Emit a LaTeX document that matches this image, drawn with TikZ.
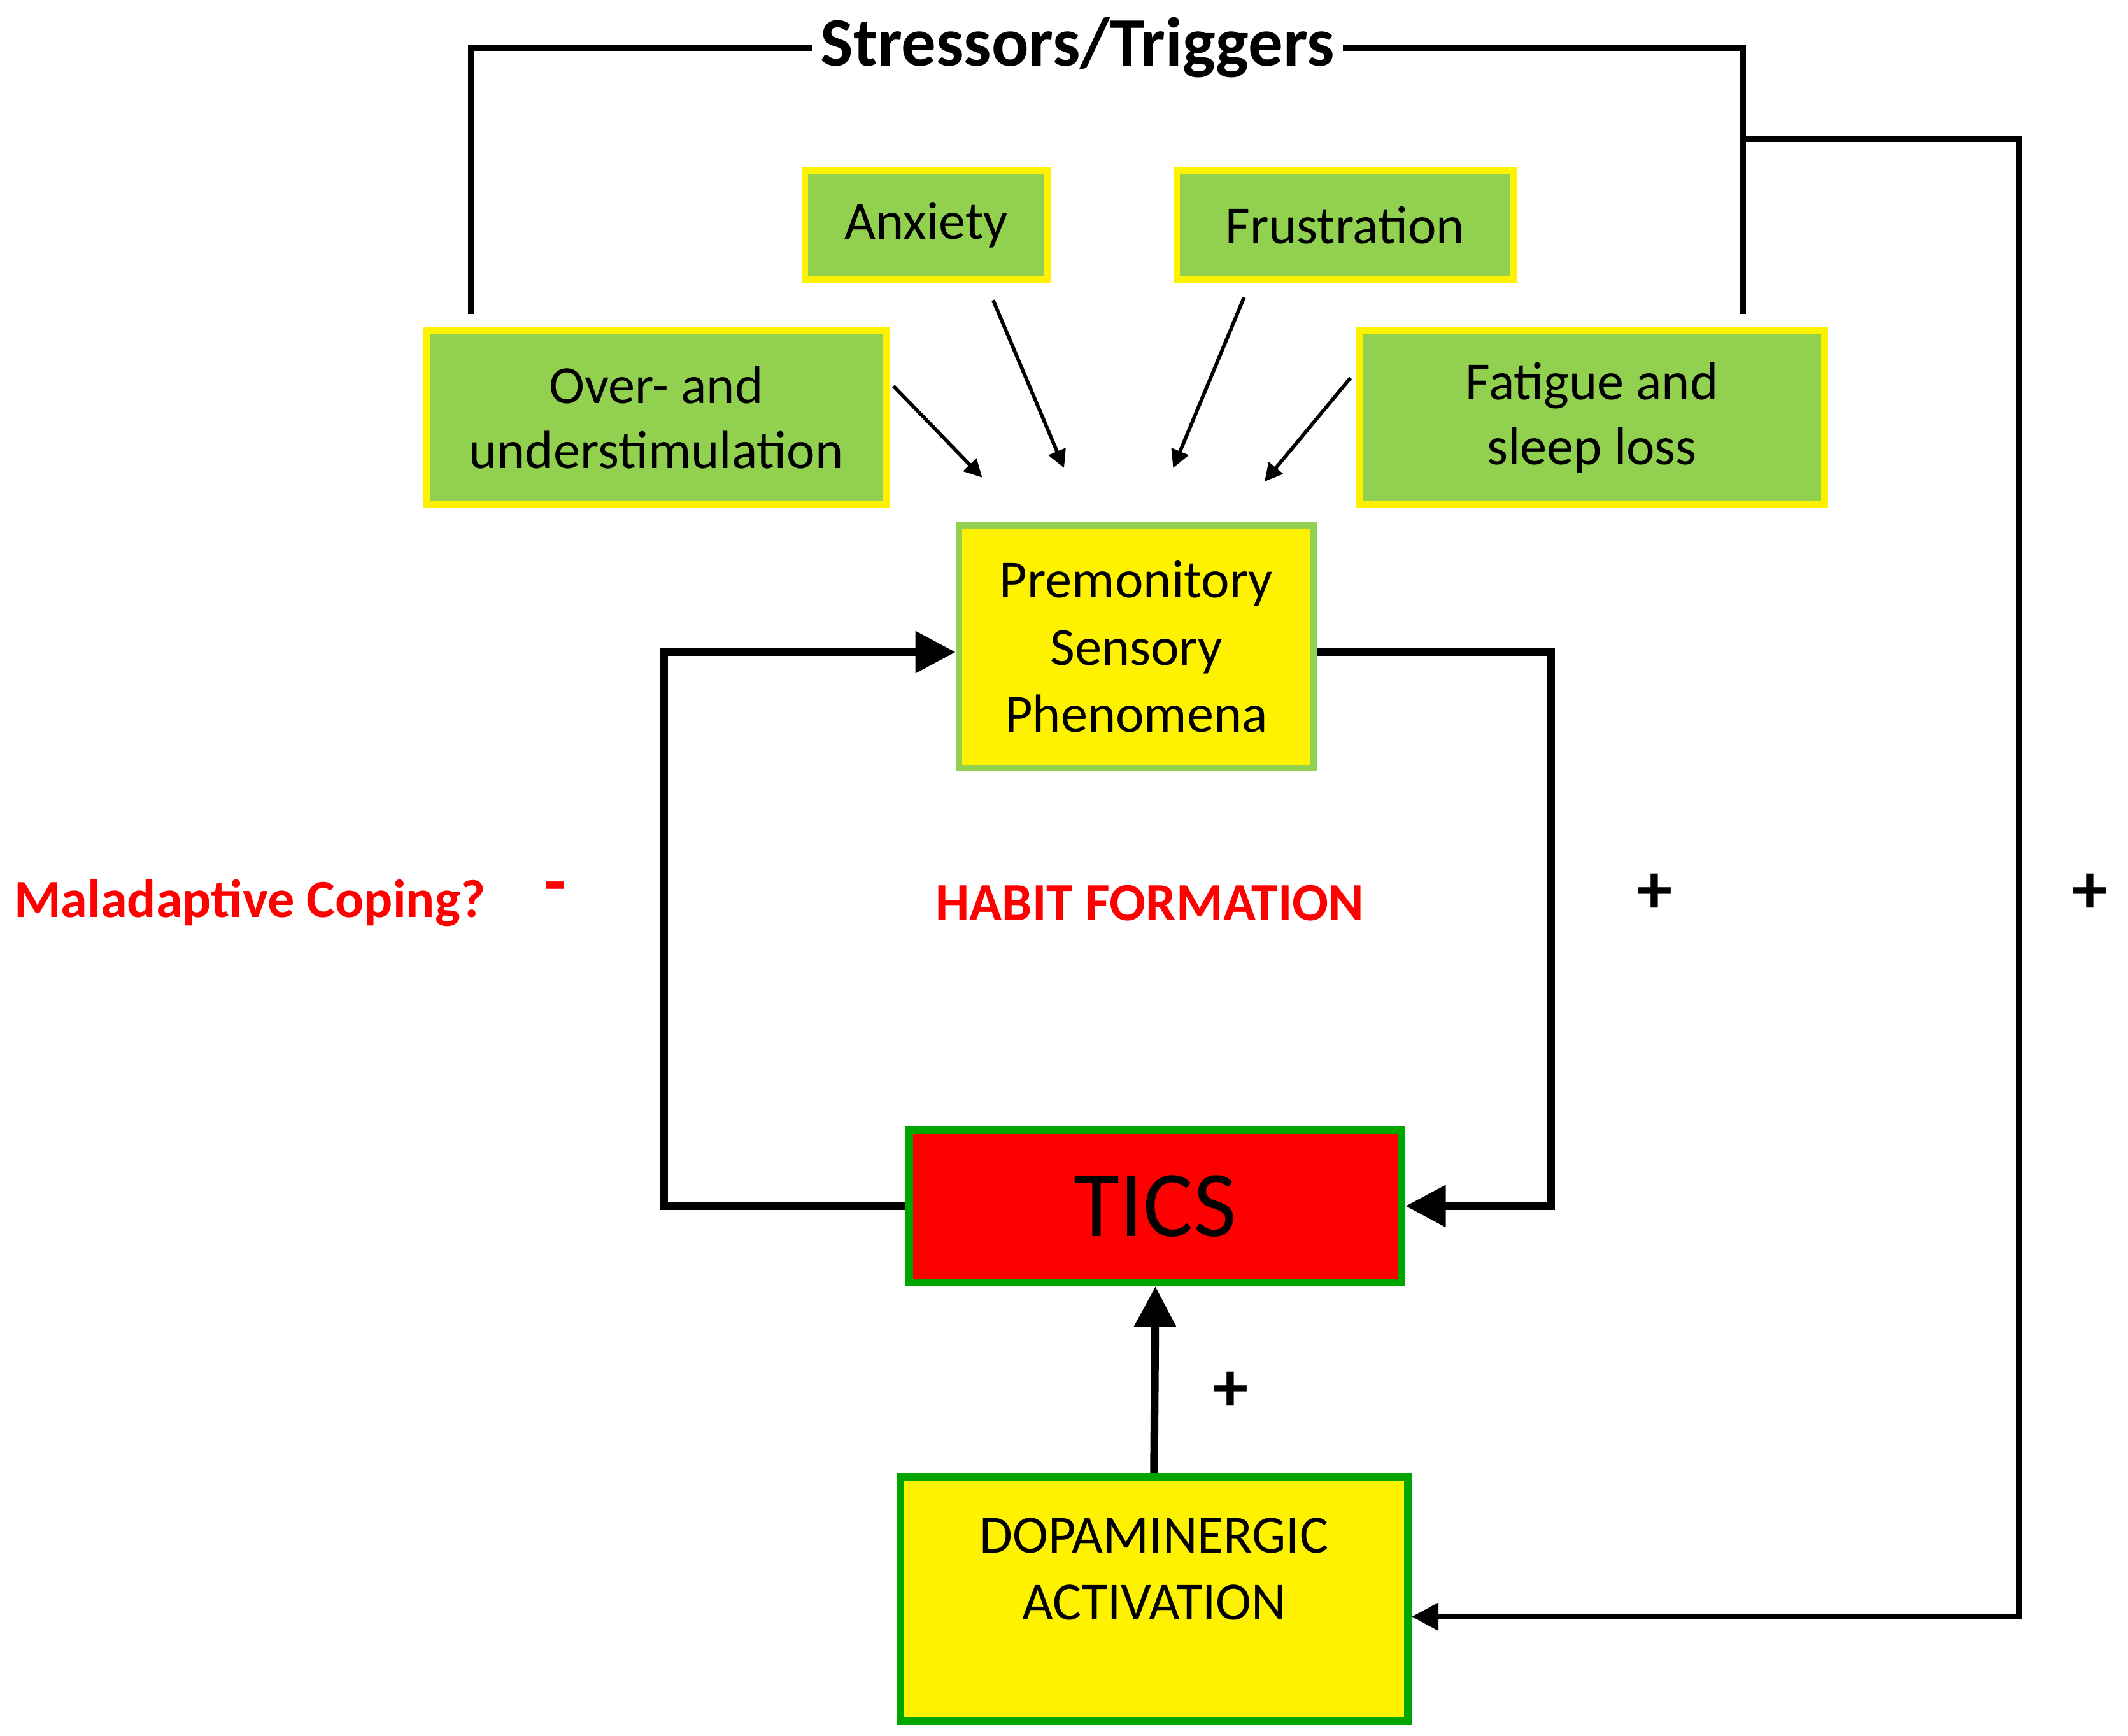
\documentclass[tikz,border=0pt]{standalone}
\usepackage{fontspec}
\setmainfont{Carlito}
\usetikzlibrary{arrows.meta,positioning,calc}

\begin{document}
\begin{tikzpicture}[x=0.02142cm,y=-0.02142cm,
  trigger/.style={rectangle,draw=yellow,line width=3pt,font=\fontsize{24}{29}\selectfont,align=center,inner sep=0pt},
  loop/.style={line width=3.5pt,-{Triangle[length=18pt,width=18pt]}},
  thin/.style={line width=1.6pt},
  frame/.style={line width=2.6pt},
  sign/.style={font=\fontsize{32}{32}\selectfont\bfseries}]
\useasboundingbox (0,0) rectangle (1560,1272);
\definecolor{trig}{RGB}{146,208,80}
% Stressors
\node[font=\fontsize{31}{32}\selectfont\bfseries] (stress) at (790,35) {Stressors/Triggers};
\node[trigger,fill=trig,minimum width=178*0.02142cm,minimum height=80*0.02142cm] (anx) at (679,165) {Anxiety};
\node[trigger,fill=trig,minimum width=247*0.02142cm,minimum height=80*0.02142cm] (fru) at (986,165) {Frustration};
\node[trigger,fill=trig,minimum width=337*0.02142cm,minimum height=128*0.02142cm] (over) at (481,306) {Over- and\\understimulation};
\node[trigger,fill=trig,minimum width=341*0.02142cm,minimum height=128*0.02142cm] (fat) at (1167,306) {Fatigue and\\sleep loss};

% Core loop
\node[rectangle,draw=trig,line width=3pt,fill=yellow,minimum width=260*0.02142cm,minimum height=178*0.02142cm,align=center,font=\fontsize{24}{30}\selectfont] (psp) at (833,474) {Premonitory\\Sensory\\Phenomena};
\node[rectangle,draw=green!65!black,line width=3.5pt,fill=red,minimum width=361*0.02142cm,minimum height=112*0.02142cm,font=\fontsize{42}{42}\selectfont] (tics) at (847,884) {TICS};
\node[rectangle,draw=green!65!black,line width=3.5pt,fill=yellow,minimum width=372*0.02142cm,minimum height=179*0.02142cm] (dopa) at (846,1172) {};
\node[align=center,font=\fontsize{24}{30}\selectfont] (dopat) at (846,1150) {DOPAMINERGIC\\ACTIVATION};

% Stressor lines
\coordinate (sl) at (345,230);
\coordinate (sr) at (1278,230);
\coordinate (br) at (1278,102);
\draw[frame] (sl) -- (345,35) -- (stress.west);
\draw[frame] (stress.east) -- (1278,35) -- (sr);
\draw[frame,-{Triangle[length=12pt,width=12pt]}] (br) -- (1480,102) -- (1480,1185) -- (dopa.east |- 0,1185);

% Trigger arrows
\draw[thin,-{Triangle[length=8pt,width=8pt]}] (655,283) -- (720,350);
\draw[thin,-{Triangle[length=8pt,width=8pt]}] (728,220) -- (780,343);
\draw[thin,-{Triangle[length=8pt,width=8pt]}] (912,218) -- (860,343);
\draw[thin,-{Triangle[length=8pt,width=8pt]}] (990,277) -- (927,353);

% Habit loop
\draw[loop] (tics.west) -- (487,884) -- (487,478) -- (psp.west |- 0,478);
\draw[loop] (psp.east |- 0,478) -- (1137,478) -- (1137,884) -- (tics.east);
\draw[loop] (dopa.north) -- (tics.south);

% Labels
\node[text=red,font=\fontsize{24}{28}\selectfont\bfseries] (mal) at (183,662) {Maladaptive Coping?};
\node[text=red,sign] (minus) at (407,655) {-};
\node[text=red,font=\fontsize{24}{28}\selectfont\bfseries] (habit) at (843,662) {HABIT FORMATION};
\node[sign] (p1) at (1213,655) {+};
\node[sign] (p2) at (1532,655) {+};
\node[sign] (p3) at (902,1020) {+};
\end{tikzpicture}
\end{document}
